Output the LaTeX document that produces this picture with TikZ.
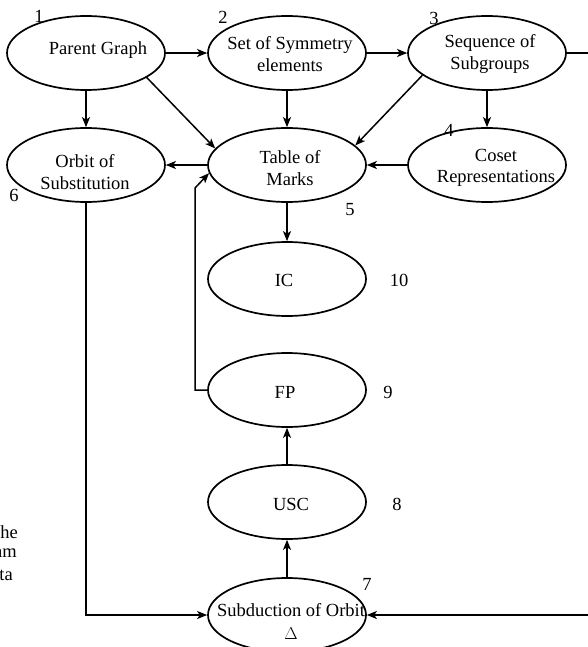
\documentclass[tikz,border=0pt]{standalone}
\usepackage{fontspec}
\setmainfont{Liberation Serif}
\usetikzlibrary{shapes.geometric,arrows.meta}
\begin{document}
\begin{tikzpicture}[x=1pt,y=-1pt,
  ellip/.style={ellipse,draw,line width=1.7pt,minimum width=158pt,minimum height=74pt,inner sep=0pt},
  txt/.style={align=center,font=\fontsize{18.5}{21.5}\selectfont,inner sep=0pt},
  num/.style={font=\fontsize{18.5}{21.5}\selectfont,inner sep=0pt},
  arr/.style={line width=1.5pt,-{Stealth[length=10pt,width=8pt,inset=2.5pt]}}]
\useasboundingbox (0,0) rectangle (588,647);

% ellipses
\node[ellip] (pg)  at (86,53)  {};
\node[ellip] (set) at (287,53) {};
\node[ellip] (seq) at (487,53) {};
\node[ellip] (orb) at (86,165) {};
\node[ellip] (tom) at (287,165) {};
\node[ellip] (cos) at (487,165) {};
\node[ellip] (ic)  at (287,279) {};
\node[ellip] (fp)  at (287,390) {};
\node[ellip] (usc) at (287,502) {};
\node[ellip] (sub) at (287,615) {};

% texts
\node[txt] (pgt)  at (98,50)  {Parent Graph};
\node[txt] (sett) at (290,54) {Set of Symmetry\\elements};
\node[txt] (seqt) at (490,54) {Sequence of\\Subgroups};
\node[txt] (orbt) at (85,172) {Orbit of\\Substitution};
\node[txt] (tomt) at (290,168) {Table of\\Marks};
\node[txt] (cost) at (496,168) {Coset\\Representations};
\node[txt] (ict)  at (284,280) {IC};
\node[txt] (fpt)  at (285,392) {FP};
\node[txt] (usct) at (291,504) {USC};
\node[txt] (subt) at (291,621) {Subduction of Orbit\\[1.5pt]$\Delta$};

% numbers
\node[num] (n1)  at (39,16)  {1};
\node[num] (n2)  at (223,17) {2};
\node[num] (n3)  at (434,18) {3};
\node[num] (n4)  at (449,130) {4};
\node[num] (n5)  at (350,210) {5};
\node[num] (n6)  at (14,195) {6};
\node[num] (n7)  at (367,584) {7};
\node[num] (n8)  at (397,504) {8};
\node[num] (n9)  at (388,392) {9};
\node[num] (n10) at (399,280) {10};

% cropped caption fragments (cut at the left edge, as in the reference)
\node[num,anchor=east] (c1) at (18,532) {The};
\node[num,anchor=east] (c2) at (17,553) {nm};
\node[num,anchor=east] (c3) at (13,575) {ta};

% connectors
\coordinate (fbk) at (195,188);
\coordinate (rt) at (600,53);
\draw[arr] (pg.east) -- (set.west);
\draw[arr] (set.east) -- (seq.west);
\draw[arr] (pg.south) -- (orb.north);
\draw[arr] (pg.-22) -- (tom.167);
\draw[arr] (set.south) -- (tom.north);
\draw[arr] (seq.199) -- (tom.16);
\draw[arr] (seq.south) -- (cos.north);
\draw[arr] (cos.west) -- (tom.east);
\draw[arr] (tom.west) -- (orb.east);
\draw[arr] (tom.south) -- (ic.north);
\draw[arr] (fp.west) -| (fbk) -- (tom.186);
\draw[arr] (usc.north) -- (fp.south);
\draw[arr] (sub.north) -- (usc.south);
\draw[arr] (orb.south) |- (sub.west);
\draw[arr] (seq.east) -- (rt) |- (sub.east);
\end{tikzpicture}
\end{document}
